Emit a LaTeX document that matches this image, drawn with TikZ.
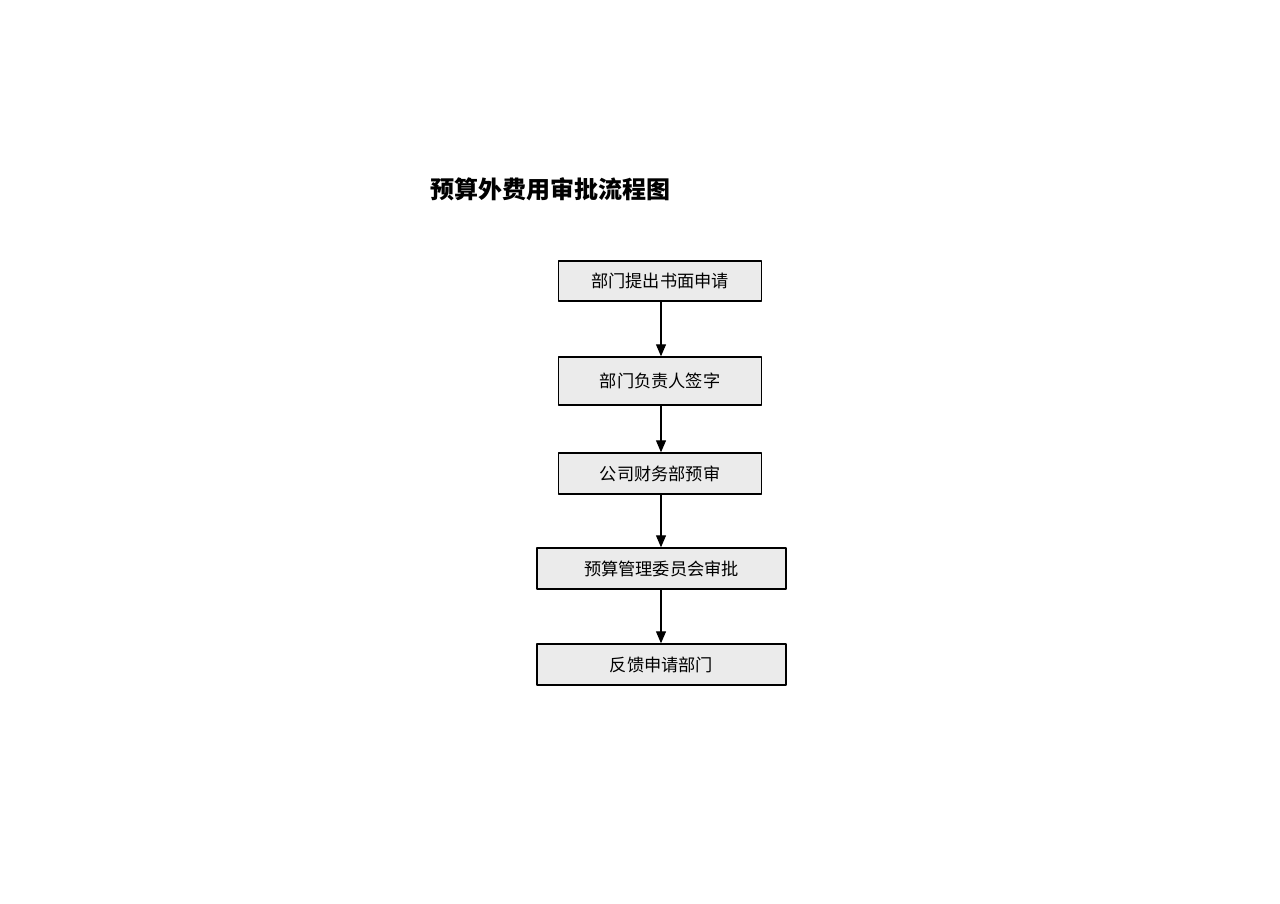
\documentclass[tikz,border=0pt]{standalone}
\usepackage{fontspec}
\newfontfamily\cjk{Noto Sans CJK SC}
\usetikzlibrary{arrows.meta}
\begin{document}
\begin{tikzpicture}[x=0.5pt,y=-0.5pt,>={Triangle[length=6pt,width=5pt]},line join=round,font=\cjk]
				\tikzset{
				stepbox/.style={draw,line width=0.7pt,fill=gray!16,inner sep=0pt,font=\cjk\fontsize{8.6}{10}\selectfont},
				flow/.style={->,line width=0.6pt}
				}
				\useasboundingbox[fill=white] (0,0) rectangle (1280,904);
				\node[font=\cjk\bfseries\fontsize{12}{14}\selectfont] (title) at (550,189) {预算外费用审批流程图};
				\node[stepbox,minimum width=101.5pt,minimum height=20pt] (s1) at (660,281) {部门提出书面申请};
				\node[stepbox,minimum width=101.5pt,minimum height=24pt] (s2) at (660,381) {部门负责人签字};
				\node[stepbox,minimum width=101.5pt,minimum height=20.5pt] (s3) at (660,473.5) {公司财务部预审};
				\node[stepbox,minimum width=124.5pt,minimum height=20.5pt] (s4) at (661.5,568.5) {预算管理委员会审批};
				\node[stepbox,minimum width=124.5pt,minimum height=20.5pt] (s5) at (661.5,664.5) {反馈申请部门};
				\foreach \a/\b in {s1/s2,s2/s3,s3/s4,s4/s5} \draw[flow] (\a.south-|661,0) -- (\b.north-|661,0);
			\end{tikzpicture}
\end{document}
